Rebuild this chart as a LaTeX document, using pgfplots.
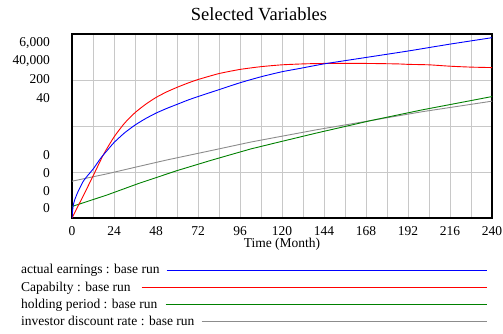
\documentclass[border=0pt]{standalone}
\usepackage{fontspec}
\setmainfont{Liberation Serif}
\usepackage{pgfplots}
\pgfplotsset{compat=1.18}
\definecolor{cblue}{RGB}{0,0,255}
\definecolor{cred}{RGB}{255,0,0}
\definecolor{cgreen}{RGB}{0,128,0}
\definecolor{cgray}{RGB}{140,140,140}
\definecolor{cgrid}{RGB}{200,200,200}
\begin{document}
\begin{tikzpicture}[x=1bp,y=1bp]
\useasboundingbox (0,0) rectangle (503,333);
\begin{axis}[
 at={(72bp,115bp)}, anchor=south west, scale only axis,
 width=420bp, height=184bp,
 xmin=0, xmax=240, ymin=0, ymax=4,
 xtick={0,24,...,240}, minor xtick={12,36,...,228},
 ytick={1,2,3}, yticklabels={},
 extra y ticks={0.211,0.593,0.985,1.370,2.615,3.022,3.413,3.798},
 extra y tick labels={0,0,0,0,40,200,{40,000},{6,000}},
 extra y tick style={grid=none, yticklabel style={anchor=east, inner sep=0pt, xshift=-22bp}},
 grid=both,
 major grid style={cgrid, line width=0.9bp},
 minor grid style={cgrid, line width=0.9bp},
 major tick length=0pt, minor tick length=0pt,
 axis line style={black, line width=1.3bp},
 tick label style={font=\fontsize{13.5bp}{15bp}\selectfont},
 /pgf/number format/assume math mode=true,
 xticklabel style={anchor=north, inner sep=0pt, yshift=-8bp},
 xlabel={Time (Month)},
 xlabel style={at={(axis description cs:0.5,0)}, anchor=base, inner sep=0pt, yshift=-29.5bp, font=\fontsize{13.5bp}{15bp}\selectfont},
]
% investor discount rate
\addplot[cgray, line width=0.9bp] coordinates {
(0,0.80) (20,0.96) (38,1.12) (54,1.26) (80,1.47) (102,1.65) (116,1.75) (140,1.92) (171,2.12) (200,2.31) (240,2.54)};
% holding period
\addplot[cgreen, line width=0.9bp] coordinates {
(0,0.25) (20,0.50) (38,0.75) (60,1.03) (80,1.26) (102,1.50) (116,1.63) (140,1.85) (171,2.12) (200,2.35) (240,2.64)};
% Capability
\addplot[cred, line width=0.9bp, smooth, tension=0.35] coordinates {
(0,0) (6,0.45) (12,0.91) (18,1.38) (24,1.76) (30,2.06) (36,2.29) (42,2.47) (48,2.62) (54,2.74) (60,2.84) (66,2.93) (72,3.01) (84,3.14) (96,3.23) (108,3.29) (120,3.33) (132,3.35) (144,3.36) (168,3.36) (186,3.35) (192,3.34) (204,3.33) (216,3.30) (228,3.28) (240,3.27)};
% actual earnings
\addplot[cblue, line width=0.9bp, smooth, tension=0.35] coordinates {
(0,0) (0.6,0.25) (1.5,0.39) (3.4,0.57) (6.3,0.79) (9.1,0.93) (12,1.06) (16.8,1.32) (20.6,1.49) (24,1.64) (30,1.85) (36,2.02) (42,2.16) (48,2.28) (54,2.38) (60,2.47) (66,2.56) (72,2.64) (84,2.79) (96,2.94) (108,3.07) (120,3.18) (130,3.25) (144,3.35) (168,3.49) (192,3.63) (216,3.78) (240,3.92)};
\end{axis}
\node[anchor=base, inner sep=0pt, font=\fontsize{18.5bp}{22bp}\selectfont] at (259,313) {Selected Variables};
\begin{scope}[font=\fontsize{13.5bp}{15bp}\selectfont]
\node[anchor=base west, inner sep=0pt] at (21,59.5) {actual earnings : base run};
\draw[cblue, line width=1bp] (166.7,63) -- (486.7,63);
\node[anchor=base west, inner sep=0pt] at (21,42) {Capabilty : base run};
\draw[cred, line width=1bp] (141.7,45.5) -- (486.7,45.5);
\node[anchor=base west, inner sep=0pt] at (21,24.7) {holding period : base run};
\draw[cgreen, line width=1bp] (165.7,28.5) -- (486.7,28.5);
\node[anchor=base west, inner sep=0pt] at (21,8) {investor discount rate : base run};
\draw[cgray, line width=1bp] (201.7,12) -- (486.7,12);
\end{scope}
\end{tikzpicture}
\end{document}
